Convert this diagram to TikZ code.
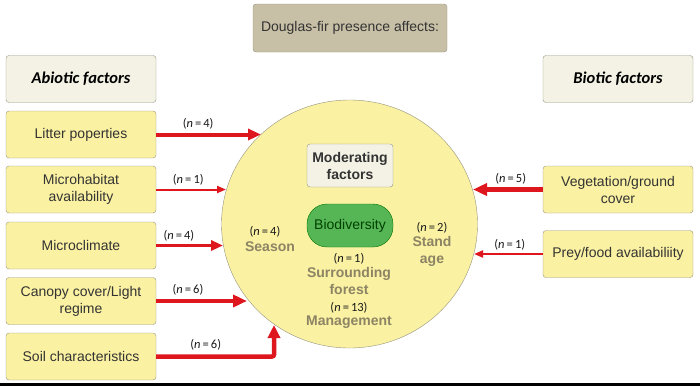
\documentclass[tikz,border=0pt]{standalone}
\usepackage{fontspec}
\setmainfont{Liberation Sans}
\newfontfamily\carl{Carlito}
\usetikzlibrary{arrows.meta,shapes.geometric}

\definecolor{boxyel}{RGB}{250,241,162}
\definecolor{boxoff}{RGB}{244,242,228}
\definecolor{boxtan}{RGB}{200,192,166}
\definecolor{bordgr}{RGB}{150,148,130}
\definecolor{arrred}{RGB}{222,22,30}
\definecolor{modtxt}{RGB}{140,132,100}
\definecolor{biogrn}{RGB}{86,182,86}

\newcommand{\nlab}[1]{{\carl(\textit{n}\,=\,#1)}}
\newcommand{\bigfont}{\fontsize{14}{17}\selectfont}

\tikzset{
  fbox/.style={draw=bordgr, rounded corners=3pt, minimum width=150pt,
    minimum height=47pt, align=center, inner sep=2pt, text=black!80, font=\bigfont},
  ybox/.style={fbox, fill=boxyel},
  hbox/.style={fbox, fill=boxoff, font=\carl\fontsize{16.5}{19}\selectfont\bfseries\itshape, text=black},
  nl/.style={font=\fontsize{12.5}{14}\selectfont, text=black!90, inner sep=1pt},
  mod/.style={font=\bigfont\bfseries, text=modtxt, align=center, inner sep=0pt},
  arr/.style={draw=arrred, line width=#1}
}

\begin{document}
\begin{tikzpicture}[x=1pt,y=-1pt]
  \useasboundingbox (0,0) rectangle (700,386);
  % header
  \node[fbox, fill=boxtan, minimum width=194pt, minimum height=48pt] (head) at (350,28) {Douglas-fir presence affects:};
  \node[hbox] (abio) at (81,79) {Abiotic factors};
  \node[hbox] (bio) at (618,79) {Biotic factors};

  % the moderating circle
  \node[ellipse, draw=bordgr, fill=boxyel, minimum width=256pt, minimum height=248pt, inner sep=0pt] (circ) at (349.5,224) {};
  \node[fbox, fill=boxoff, minimum width=86pt, minimum height=43pt, font=\bigfont\bfseries, text=black!80] (modf) at (350,165.5) {Moderating\\factors};
  \node[draw=green!45!black, fill=biogrn, rounded corners=20pt, minimum width=86pt, minimum height=43pt, font=\bigfont, text=green!25!black] (biod) at (350,225.5) {Biodiversity};

  \node[nl] (nSea) at (265,232) {\nlab{4}};
  \node[mod] (sea) at (270,247) {Season};
  \node[nl] (nSta) at (432,228) {\nlab{2}};
  \node[mod] (sta) at (432,251) {Stand\\age};
  \node[nl] (nSur) at (349,259) {\nlab{1}};
  \node[mod] (sur) at (349,281) {Surrounding\\forest};
  \node[nl] (nMan) at (349,308) {\nlab{13}};
  \node[mod] (man) at (349,322) {Management};

  % abiotic boxes
  \node[ybox] (lit) at (81,134.5) {Litter poperties};
  \node[ybox] (mic) at (81,189.5) {Microhabitat\\availability};
  \node[ybox] (cli) at (81,245.5) {Microclimate};
  \node[ybox] (can) at (81,301) {Canopy cover/Light\\regime};
  \node[ybox] (soil) at (81,356.5) {Soil characteristics};

  % biotic boxes
  \node[ybox] (veg) at (618,189.5) {Vegetation/ground\\cover};
  \node[ybox] (prey) at (618,254) {Prey/food availabiliity};

  % where the arrows hit the circle
  \coordinate (tLit) at (261,134.5);
  \coordinate (tMic) at (226,189.5);
  \coordinate (tCli) at (223,245.5);
  \coordinate (tCan) at (247,301);
  \coordinate (kSoil) at (274,356.5);
  \coordinate (tSoil) at (274,325);
  \coordinate (tVeg) at (473,189.5);
  \coordinate (tPrey) at (474,254);

  \draw[arr=4pt, -{Triangle[length=13pt,width=11pt]}] (lit.east) -- node[nl, pos=0.4, above=2pt] {\nlab{4}} (tLit);
  \draw[arr=2pt, -{Triangle[length=9pt,width=7pt]}] (mic.east) -- node[nl, pos=0.46, above=2pt] {\nlab{1}} (tMic);
  \draw[arr=3.5pt, -{Triangle[length=12pt,width=10pt]}] (cli.east) -- node[nl, pos=0.34, above=2pt] {\nlab{4}} (tCli);
  \draw[arr=4.5pt, -{Triangle[length=14pt,width=12pt]}] (can.east) -- node[nl, pos=0.35, above=3pt] {\nlab{6}} (tCan);
  \draw[arr=4.5pt, -{Triangle[length=13pt,width=12pt]}, rounded corners=2pt] (soil.east) -- node[nl, pos=0.42, above=3pt] {\nlab{6}} (kSoil) -- (tSoil);
  \draw[arr=4.5pt, -{Triangle[length=14pt,width=12pt]}] (veg.west) -- node[nl, pos=0.46, above=2pt] {\nlab{5}} (tVeg);
  \draw[arr=2pt, -{Triangle[length=9pt,width=7pt]}] (prey.west) -- node[nl, pos=0.48, above=2pt] {\nlab{1}} (tPrey);

  % rule along the bottom
  \draw[line width=2.5pt] (0,384.5) -- (700,384.5);
\end{tikzpicture}
\end{document}
